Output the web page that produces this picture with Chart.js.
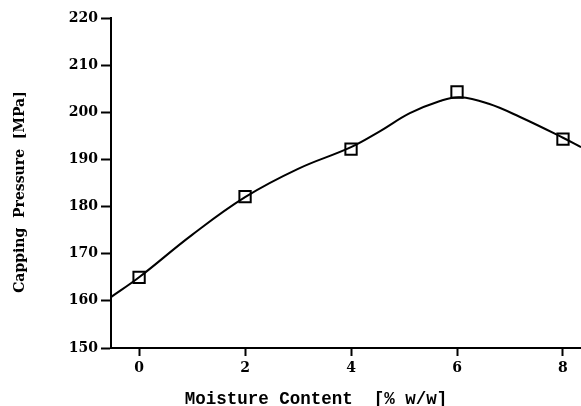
<!DOCTYPE html>
<html>
<head>
<meta charset="utf-8">
<script src="https://cdn.jsdelivr.net/npm/chart.js@4/dist/chart.umd.min.js"></script>
<style>
  html, body { margin: 0; padding: 0; background: #fff; }
  #wrap { width: 581px; height: 406px; position: relative; }
</style>
</head>
<body>
<div id="wrap"><canvas id="c"></canvas></div>
<script>
// Measured data points (moisture content % w/w, capping pressure MPa)
const moisture = [0, 2, 4, 6, 8];
const capping = [165, 182.1, 192.2, 204.3, 194.3];

// Fitted curve
const fitX = [-0.53, 0, 1, 2, 3, 4, 4.55, 5.11, 5.68, 6.06, 6.6, 7.19, 8, 8.34];
const fitY = [160.8, 165.0, 174.0, 182.0, 188.0, 192.6, 196.0, 199.8, 202.4, 203.2, 201.8, 199.0, 194.6, 192.6];

// Tick labels
const xTicks = [0, 2, 4, 6, 8];
const yTicks = [150, 160, 170, 180, 190, 200, 210, 220];

const xTitle = 'Moisture Content  [% w/w]';
const yTitle = 'Capping  Pressure  [MPa]';

const titlePlugin = {
  id: 'titles',
  afterDraw(chart) {
    const ctx = chart.ctx;
    ctx.save();
    ctx.fillStyle = '#000';
    ctx.font = 'bold 17.5px "Liberation Mono"';
    ctx.textAlign = 'center';
    ctx.textBaseline = 'alphabetic';
    ctx.fillText(xTitle, 316, 404);
    ctx.translate(20, 192);
    ctx.rotate(-Math.PI / 2);
    ctx.font = 'bold 14px "DejaVu Serif"';
    ctx.textBaseline = 'middle';
    ctx.fillText(yTitle, 0, 0);
    ctx.restore();
  }
};

new Chart(document.getElementById('c'), {
  type: 'scatter',
  data: {
    datasets: [
      {
        type: 'line',
        data: fitX.map((x, i) => ({ x: x, y: fitY[i] })),
        borderColor: '#000',
        borderWidth: 2,
        pointRadius: 0,
        fill: false,
        tension: 0.4,
        order: 2
      },
      {
        data: moisture.map((x, i) => ({ x: x, y: capping[i] })),
        pointStyle: 'rect',
        pointRadius: 8,
        borderColor: '#000',
        backgroundColor: 'rgba(255,255,255,0)',
        borderWidth: 2,
        order: 1
      }
    ]
  },
  options: {
    responsive: true,
    maintainAspectRatio: false,
    animation: false,
    layout: { autoPadding: false, padding: { top: 18, right: 0, left: 0, bottom: 0 } },
    plugins: { legend: { display: false }, tooltip: { enabled: false } },
    scales: {
      x: {
        type: 'linear',
        min: -0.53,
        max: 8.34,
        afterBuildTicks: s => { s.ticks = xTicks.map(v => ({ value: v })); },
        afterFit: s => { s.height = 58; s.paddingLeft = 0; s.paddingRight = 0; },
        grid: { drawOnChartArea: false, drawTicks: true, tickLength: 8, tickColor: '#000', tickWidth: 2 },
        border: { display: true, color: '#000', width: 2 },
        ticks: { color: '#000', padding: 4, font: { family: 'DejaVu Serif', weight: 'bold', size: 14 } }
      },
      y: {
        min: 150,
        max: 220,
        afterBuildTicks: s => { s.ticks = yTicks.map(v => ({ value: v })); },
        afterFit: s => { s.width = 111; },
        grid: { drawOnChartArea: false, drawTicks: true, tickLength: 10, tickColor: '#000', tickWidth: 2 },
        border: { display: true, color: '#000', width: 2 },
        ticks: { color: '#000', padding: 3, font: { family: 'DejaVu Serif', weight: 'bold', size: 14 } }
      }
    }
  },
  plugins: [titlePlugin]
});
</script>
</body>
</html>
